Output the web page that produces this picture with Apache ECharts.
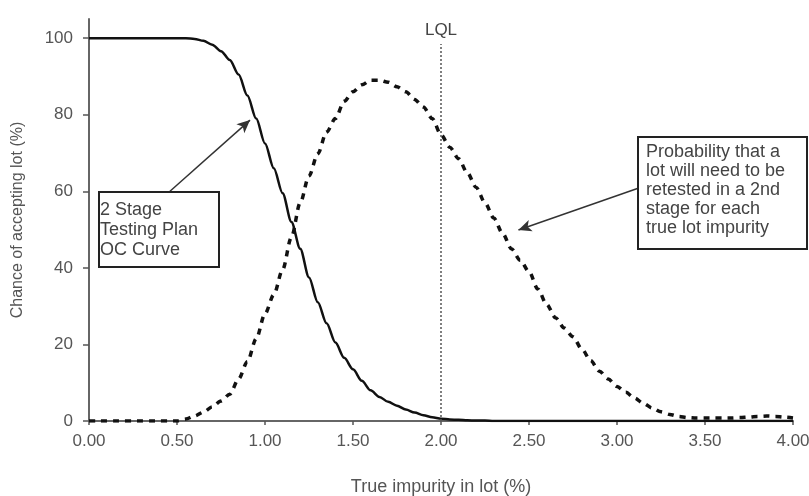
<!DOCTYPE html>
<html>
<head>
<meta charset="utf-8">
<script src="https://cdn.jsdelivr.net/npm/echarts@6/dist/echarts.min.js"></script>
<style>
  html, body { margin: 0; padding: 0; background: #fff; }
  #chart { width: 809px; height: 496px; }
</style>
</head>
<body>
<div id="chart"></div>
<script>
// true lot impurity (%)
const impurity = [
  0.00, 0.05, 0.10, 0.15, 0.20, 0.25, 0.30, 0.35, 0.40, 0.45,
  0.50, 0.55, 0.60, 0.65, 0.70, 0.75, 0.80, 0.85, 0.90, 0.95,
  1.00, 1.05, 1.10, 1.15, 1.20, 1.25, 1.30, 1.35, 1.40, 1.45,
  1.50, 1.55, 1.60, 1.65, 1.70, 1.75, 1.80, 1.85, 1.90, 1.95,
  2.00, 2.05, 2.10, 2.15, 2.20, 2.25, 2.30, 2.35, 2.40, 2.45,
  2.50, 2.55, 2.60, 2.65, 2.70, 2.75, 2.80, 2.85, 2.90, 2.95,
  3.00, 3.05, 3.10, 3.15, 3.20, 3.25, 3.30, 3.35, 3.40, 3.45,
  3.50, 3.55, 3.60, 3.65, 3.70, 3.75, 3.80, 3.85, 3.90, 3.95,
  4.00
];

// 2 stage OC curve, chance of accepting lot (%)
const ocCurve = [
  100, 100, 100, 100, 100, 100, 100, 100, 100, 100,
  100, 100, 99.8, 99.3, 98.3, 96.6, 94.3, 90.5, 85, 79,
  72.5, 66, 59.5, 52, 45, 37.5, 31, 25.5, 20.5, 16.5,
  13.5, 10.5, 8, 6.3, 5, 4, 3, 2.2, 1.5, 1,
  0.6, 0.4, 0.3, 0.2, 0.1, 0.1, 0, 0, 0, 0,
  0, 0, 0, 0, 0, 0, 0, 0, 0, 0,
  0, 0, 0, 0, 0, 0, 0, 0, 0, 0,
  0, 0, 0, 0, 0, 0, 0, 0, 0, 0,
  0
];

// probability of needing a 2nd stage retest (%)
const retestProb = [
  0, 0, 0, 0, 0, 0, 0, 0, 0, 0,
  0, 0.5, 1.3, 2.3, 3.7, 5.2, 7, 11, 15.5, 21.5,
  28, 33, 39.5, 48, 57, 64, 69.8, 75.5, 79, 83.5,
  86, 87.8, 89, 89, 88.5, 87.3, 86, 84, 82, 79,
  74.8, 71.5, 68.5, 64.8, 61, 57, 53, 49, 45, 42,
  39, 34.5, 30.5, 27, 24.3, 22, 18.8, 15.8, 13, 11,
  9, 7.5, 6, 4.6, 3.4, 2.4, 1.7, 1.2, 0.9, 0.8,
  0.8, 0.8, 0.8, 0.8, 0.9, 1, 1.2, 1.3, 1.2, 1,
  0.8
];

const yTicks = [0, 20, 40, 60, 80, 100];
const lql = 2.0;

// annotation arrows: [start, tip] in data units
const ocArrow = [[0.46, 60], [0.915, 78.6]];
const retestArrow = [[3.12, 60.8], [2.44, 49.9]];

const ocNote = '2 Stage\nTesting Plan\nOC Curve';
const retestNote = 'Probability that a\nlot will need to be\nretested in a 2nd\nstage for each\ntrue lot impurity';

const font = '"Liberation Sans", Arial, sans-serif';
const chart = echarts.init(document.getElementById('chart'));

const arrowLine = (pair) => [
  { coord: pair[0], symbol: 'none' },
  { coord: pair[1], symbol: 'arrow', symbolSize: [9, 13] }
];

chart.setOption({
  animation: false,
  backgroundColor: '#fff',
  grid: { left: 89, right: 16, top: 19, bottom: 75, outerBoundsMode: 'none' },
  xAxis: {
    type: 'value',
    min: 0, max: 4, interval: 0.5,
    name: 'True impurity in lot (%)',
    nameLocation: 'middle',
    nameGap: 57,
    nameTextStyle: { fontFamily: font, fontSize: 18, color: '#555' },
    axisLine: { lineStyle: { color: '#666', width: 2 } },
    axisTick: { length: 4, lineStyle: { color: '#555', width: 1.5 } },
    axisLabel: {
      fontFamily: font, fontSize: 17, color: '#555', margin: 12,
      formatter: (v) => v.toFixed(2)
    },
    splitLine: { show: false }
  },
  yAxis: {
    type: 'value',
    min: 0, max: 105,
    name: 'Chance of accepting lot (%)',
    nameLocation: 'middle',
    nameGap: 63,
    nameTextStyle: { fontFamily: font, fontSize: 16, color: '#555' },
    axisLine: { show: true, lineStyle: { color: '#666', width: 2 } },
    axisTick: { show: true, length: 6, customValues: yTicks, lineStyle: { color: '#555', width: 1.5 } },
    axisLabel: { fontFamily: font, fontSize: 17, color: '#555', margin: 16, customValues: yTicks },
    splitLine: { show: false }
  },
  series: [
    {
      name: 'OC Curve',
      type: 'line',
      data: impurity.map((x, i) => [x, ocCurve[i]]),
      showSymbol: false,
      smooth: 0.3,
      smoothMonotone: 'x',
      lineStyle: { color: '#111', width: 2.5 },
      z: 3,
      markLine: {
        silent: true,
        lineStyle: { color: '#333', width: 1.5, type: 'solid' },
        label: { show: false },
        data: [arrowLine(ocArrow), arrowLine(retestArrow)]
      }
    },
    {
      name: 'Retest probability',
      type: 'line',
      data: impurity.map((x, i) => [x, retestProb[i]]),
      showSymbol: false,
      smooth: 0.3,
      smoothMonotone: 'x',
      lineStyle: { color: '#111', width: 3.5, type: [6, 6] },
      z: 2,
      markLine: {
        silent: true,
        symbol: 'none',
        lineStyle: { color: '#555', width: 1.5, type: [2, 2] },
        label: {
          show: true, position: 'end', distance: 5,
          formatter: 'LQL', fontFamily: font, fontSize: 17, color: '#444'
        },
        data: [[{ coord: [lql, 0] }, { coord: [lql, 98.5] }]]
      }
    }
  ],
  graphic: [
    {
      type: 'rect', left: 98, top: 191, z: 10,
      shape: { width: 120, height: 75 },
      style: { fill: '#fff', stroke: '#222', lineWidth: 2 }
    },
    {
      type: 'text', left: 100, top: 200, z: 11,
      style: { text: ocNote, font: '18px ' + font, fill: '#444', lineHeight: 20 }
    },
    {
      type: 'rect', left: 637, top: 136, z: 10,
      shape: { width: 169, height: 112 },
      style: { fill: '#fff', stroke: '#222', lineWidth: 2 }
    },
    {
      type: 'text', left: 646, top: 143, z: 11,
      style: { text: retestNote, font: '18px ' + font, fill: '#444', lineHeight: 19 }
    }
  ]
});
</script>
</body>
</html>
